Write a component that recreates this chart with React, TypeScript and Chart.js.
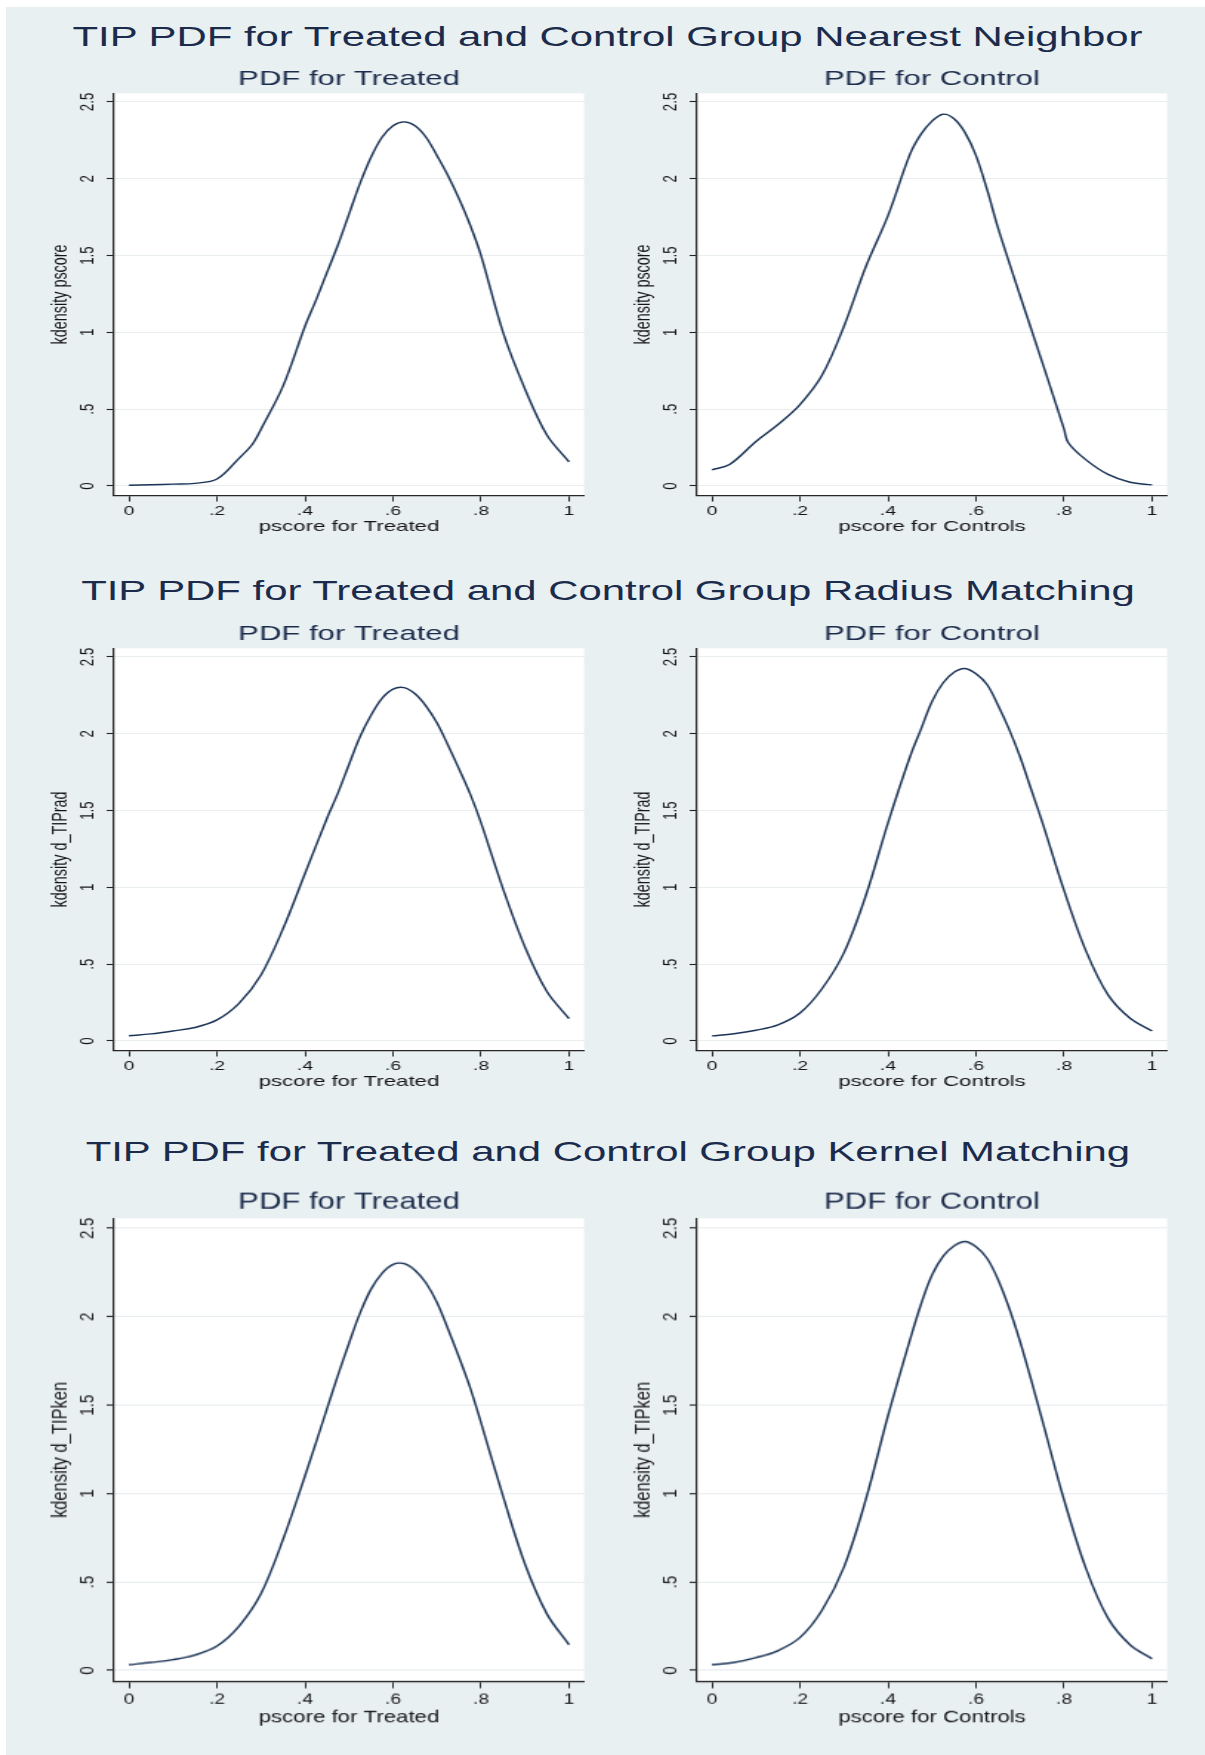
import React, { useEffect, useRef } from 'react';
import { Chart, registerables } from 'chart.js';

Chart.register(...registerables);

// ---------- data ----------
const xTicks = [0, 0.2, 0.4, 0.6, 0.8, 1];
const xTickLabels = ['0', '.2', '.4', '.6', '.8', '1'];
const yTicks = [0, 0.5, 1, 1.5, 2, 2.5];
const yTickLabels = ['0', '.5', '1', '1.5', '2', '2.5'];

const rowTitles = [
  'TIP PDF for Treated and Control Group Nearest Neighbor',
  'TIP PDF for Treated and Control Group Radius Matching',
  'TIP PDF for Treated and Control Group Kernel Matching',
];
const subTitles = ['PDF for Treated', 'PDF for Control'];
const xTitles = ['pscore for Treated', 'pscore for Controls'];
const yTitles = ['kdensity pscore', 'kdensity d_TIPrad', 'kdensity d_TIPken'];

// Nearest neighbour
const nnTreatedX = [0, 0.05, 0.1, 0.15, 0.2, 0.25, 0.28, 0.3, 0.35, 0.4, 0.425, 0.45, 0.475, 0.5, 0.525, 0.55, 0.575, 0.6, 0.625, 0.65, 0.675, 0.7, 0.725, 0.75, 0.775, 0.8, 0.85, 0.9, 0.95, 1];
const nnTreatedY = [0.005, 0.008, 0.012, 0.017, 0.045, 0.18, 0.27, 0.37, 0.65, 1.04, 1.21, 1.39, 1.57, 1.77, 1.97, 2.14, 2.27, 2.345, 2.37, 2.345, 2.27, 2.15, 2.02, 1.87, 1.7, 1.5, 1.0, 0.63, 0.33, 0.157];
const nnControlX = [0, 0.04, 0.1, 0.15, 0.2, 0.25, 0.3, 0.35, 0.4, 0.45, 0.475, 0.5, 0.525, 0.55, 0.575, 0.6, 0.625, 0.65, 0.7, 0.75, 0.8, 0.81, 0.85, 0.9, 0.95, 1];
const nnControlY = [0.105, 0.14, 0.29, 0.4, 0.53, 0.72, 1.04, 1.43, 1.76, 2.16, 2.29, 2.375, 2.42, 2.39, 2.3, 2.15, 1.93, 1.68, 1.24, 0.81, 0.37, 0.28, 0.17, 0.075, 0.024, 0.007];

// Radius matching
const radTreatedX = [0, 0.05, 0.1, 0.15, 0.2, 0.25, 0.3, 0.35, 0.4, 0.45, 0.475, 0.5, 0.525, 0.55, 0.575, 0.6, 0.625, 0.65, 0.675, 0.7, 0.725, 0.75, 0.775, 0.8, 0.85, 0.9, 0.95, 1];
const radTreatedY = [0.034, 0.046, 0.065, 0.088, 0.137, 0.245, 0.43, 0.73, 1.09, 1.45, 1.615, 1.8, 1.98, 2.12, 2.23, 2.29, 2.3, 2.26, 2.18, 2.07, 1.925, 1.77, 1.61, 1.42, 0.99, 0.61, 0.32, 0.146];
const radControlX = [0, 0.05, 0.1, 0.15, 0.2, 0.25, 0.3, 0.35, 0.4, 0.45, 0.475, 0.5, 0.525, 0.55, 0.575, 0.6, 0.625, 0.65, 0.675, 0.7, 0.725, 0.75, 0.8, 0.85, 0.9, 0.95, 1];
const radControlY = [0.033, 0.047, 0.07, 0.105, 0.182, 0.34, 0.575, 0.95, 1.42, 1.85, 2.03, 2.21, 2.33, 2.4, 2.425, 2.39, 2.32, 2.185, 2.03, 1.85, 1.64, 1.43, 0.98, 0.585, 0.3, 0.148, 0.065];

// Kernel matching
const kerTreatedX = [0, 0.05, 0.1, 0.15, 0.2, 0.25, 0.3, 0.35, 0.4, 0.45, 0.475, 0.5, 0.525, 0.55, 0.575, 0.6, 0.625, 0.65, 0.675, 0.7, 0.725, 0.75, 0.775, 0.8, 0.85, 0.9, 0.95, 1];
const kerTreatedY = [0.032, 0.045, 0.061, 0.087, 0.138, 0.25, 0.434, 0.74, 1.1, 1.48, 1.67, 1.85, 2.02, 2.155, 2.245, 2.295, 2.3, 2.262, 2.19, 2.08, 1.93, 1.77, 1.6, 1.4, 0.985, 0.6, 0.318, 0.145];
const kerControlX = [0, 0.05, 0.1, 0.15, 0.2, 0.25, 0.3, 0.35, 0.4, 0.45, 0.475, 0.5, 0.525, 0.55, 0.575, 0.6, 0.625, 0.65, 0.675, 0.7, 0.725, 0.75, 0.8, 0.85, 0.9, 0.95, 1];
const kerControlY = [0.032, 0.045, 0.072, 0.112, 0.186, 0.34, 0.585, 0.97, 1.44, 1.87, 2.07, 2.235, 2.34, 2.4, 2.425, 2.395, 2.33, 2.21, 2.05, 1.86, 1.645, 1.42, 0.965, 0.575, 0.295, 0.145, 0.066];

const panels = [
  { row: 0, col: 0, xs: nnTreatedX, ys: nnTreatedY },
  { row: 0, col: 1, xs: nnControlX, ys: nnControlY },
  { row: 1, col: 0, xs: radTreatedX, ys: radTreatedY },
  { row: 1, col: 1, xs: radControlX, ys: radControlY },
  { row: 2, col: 0, xs: kerTreatedX, ys: kerTreatedY },
  { row: 2, col: 1, xs: kerControlX, ys: kerControlY },
];

// ---------- layout / style ----------
const FONT = "'Liberation Sans', Arial, Helvetica, sans-serif";
const SX = 1.48; // horizontal stretch of the original picture
const IW = 400;
const IH = 469;
const rowTop = [66.7, 622.4, 1188.1];
const rowV = [1, 1, 1.152];
const colLeft = [6, 588.5];
const titleCenter = [35.7, 590, 1151];
const TITLE_SIZE = 28.3;
const LINE_COLOR = '#1b3457';
const TITLE_COLOR = '#1b2b4b';
const TEXT_COLOR = '#151515';
const AXIS_COLOR = '#262626';
const GRID_COLOR = '#e8edf0';
const BG = '#e9f0f2';

const plotBg = {
  id: 'plotBg',
  beforeDraw(chart: any) {
    const { ctx, chartArea: a } = chart;
    ctx.save();
    ctx.fillStyle = '#ffffff';
    ctx.fillRect(a.left, a.top, a.right - a.left, a.bottom - a.top);
    ctx.restore();
  },
};

function makeConfig(p: any): any {
  return {
    type: 'line',
    data: {
      datasets: [
        {
          data: p.xs.map((x: number, i: number) => ({ x, y: p.ys[i] })),
          borderColor: LINE_COLOR,
          borderWidth: 1.45,
          pointRadius: 0,
          fill: false,
          tension: 0.35,
        },
      ],
    },
    options: {
      responsive: false,
      animation: false,
      devicePixelRatio: 1,
      events: [],
      layout: { padding: { left: 0, top: 0, right: 9.46, bottom: 0 } },
      plugins: {
        legend: { display: false },
        tooltip: { enabled: false },
        title: {
          display: true,
          text: subTitles[p.col],
          fullSize: false,
          color: TITLE_COLOR,
          font: { family: FONT, size: 21, weight: 'normal' },
          padding: { top: 0, bottom: 1.1 },
        },
      },
      scales: {
        x: {
          type: 'linear',
          position: 'bottom',
          min: -0.034,
          max: 1.034,
          afterBuildTicks: (s: any) => {
            s.ticks = xTicks.map((v) => ({ value: v }));
          },
          afterFit: (s: any) => {
            s.height = 40.5;
          },
          ticks: {
            autoSkip: false,
            minRotation: 0,
            maxRotation: 0,
            padding: 2.1,
            color: TEXT_COLOR,
            font: { family: FONT, size: 13 },
            callback: (_v: any, i: number) => xTickLabels[i],
          },
          grid: {
            drawOnChartArea: false,
            drawTicks: true,
            tickLength: 6,
            tickColor: AXIS_COLOR,
            tickWidth: 1,
          },
          border: { display: true, color: AXIS_COLOR, width: 1.3 },
          title: {
            display: true,
            text: xTitles[p.col],
            color: TEXT_COLOR,
            font: { family: FONT, size: 15 },
            padding: { top: 0, bottom: 0 },
          },
        },
        y: {
          type: 'linear',
          position: 'left',
          min: -0.062,
          max: 2.556,
          afterBuildTicks: (s: any) => {
            s.ticks = yTicks.map((v) => ({ value: v }));
          },
          afterFit: (s: any) => {
            s.width = 72.97;
          },
          ticks: {
            autoSkip: false,
            minRotation: 90,
            maxRotation: 90,
            crossAlign: 'center',
            padding: 3.3,
            color: TEXT_COLOR,
            font: { family: FONT, size: 13.3 },
            callback: (_v: any, i: number) => yTickLabels[i],
          },
          grid: {
            color: GRID_COLOR,
            lineWidth: 1,
            drawTicks: true,
            tickLength: 5,
            tickColor: AXIS_COLOR,
            tickWidth: 1.1,
          },
          border: { display: true, color: AXIS_COLOR, width: 1.2 },
          title: {
            display: true,
            text: yTitles[p.row],
            color: TEXT_COLOR,
            font: { family: FONT, size: 14.4 },
            padding: { top: 28.16, bottom: 0 },
          },
        },
      },
    },
    plugins: [plotBg],
  };
}

function Panel({ p }: { p: any }) {
  const ref = useRef<HTMLCanvasElement | null>(null);
  useEffect(() => {
    if (!ref.current) return;
    const chart = new Chart(ref.current, makeConfig(p));
    return () => chart.destroy();
  }, [p]);
  const v = rowV[p.row];
  return (
    <canvas
      ref={ref}
      width={IW}
      height={IH}
      style={{
        position: 'absolute',
        left: colLeft[p.col],
        top: rowTop[p.row],
        width: IW * SX,
        height: IH * v,
      }}
    />
  );
}

export default function App() {
  return (
    <div
      style={{
        position: 'absolute',
        left: 0,
        top: 0,
        width: 1205,
        height: 1755,
        overflow: 'hidden',
        background: '#ffffff',
      }}
    >
      <div
        style={{
          position: 'absolute',
          left: 6,
          top: 7,
          width: 1199,
          height: 1748,
          background: BG,
        }}
      />
      {rowTitles.map((t, i) => (
        <div
          key={t}
          style={{
            position: 'absolute',
            left: 10,
            width: 1195,
            top: titleCenter[i] - 13.8,
            textAlign: 'center',
            fontFamily: FONT,
            fontSize: TITLE_SIZE,
            lineHeight: `${TITLE_SIZE}px`,
            color: TITLE_COLOR,
            whiteSpace: 'nowrap',
          }}
        >
          <span style={{ display: 'inline-block', transform: `scaleX(${SX})` }}>{t}</span>
        </div>
      ))}
      {panels.map((p, i) => (
        <Panel key={i} p={p} />
      ))}
    </div>
  );
}
